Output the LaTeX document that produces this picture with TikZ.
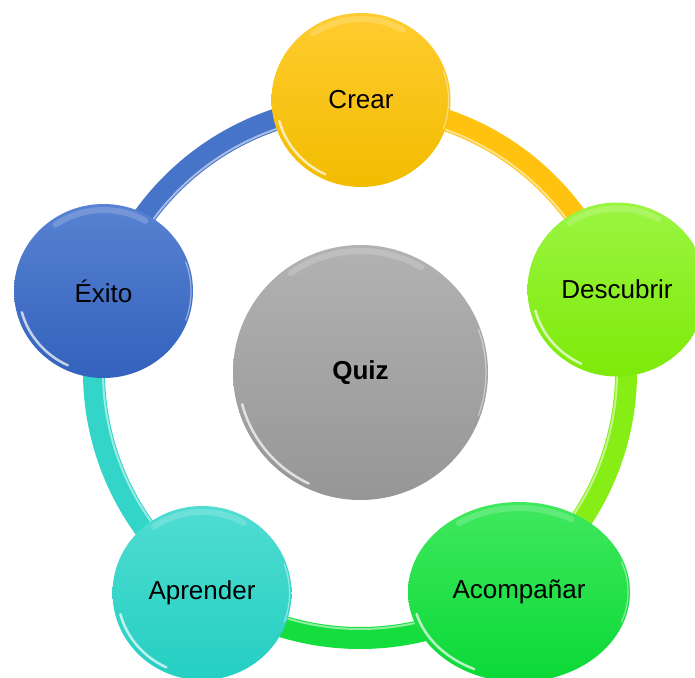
\documentclass[tikz,border=0pt]{standalone}
\usepackage{fontspec}
\setmainfont{Liberation Sans}
\usetikzlibrary{shapes.geometric,calc,backgrounds}
\definecolor{yelT}{HTML}{FFCC30}
\definecolor{yelB}{HTML}{F2BC00}
\definecolor{yelR}{HTML}{FFC20E}
\definecolor{limT}{HTML}{9AF542}
\definecolor{limB}{HTML}{7EEA08}
\definecolor{limR}{HTML}{86EE14}
\definecolor{grnT}{HTML}{40E85E}
\definecolor{grnB}{HTML}{0AD936}
\definecolor{grnR}{HTML}{14DE3E}
\definecolor{cyaT}{HTML}{50DCD2}
\definecolor{cyaB}{HTML}{24CFC2}
\definecolor{cyaR}{HTML}{33D5C9}
\definecolor{bluT}{HTML}{5882D2}
\definecolor{bluB}{HTML}{3362BC}
\definecolor{bluR}{HTML}{4674C8}
\definecolor{gryT}{HTML}{B2B2B2}
\definecolor{gryB}{HTML}{969696}
\newcommand\ballhl[3]{%
  \draw[white,opacity=.7,line width=2.5pt,line cap=round]
    ($(#1.center)+({(#2-5)*cos(195)},{(#3-5)*sin(195)})$)
    arc[start angle=195,end angle=245,x radius=#2-5,y radius=#3-5];
  \draw[white,opacity=.18,line width=6pt,line cap=round]
    ($(#1.center)+({(#2-6)*cos(60)},{(#3-6)*sin(60)})$)
    arc[start angle=60,end angle=125,x radius=#2-6,y radius=#3-6];
  \draw[white,opacity=.45,line width=1.2pt,line cap=round]
    ($(#1.center)+({(#2-2)*cos(-20)},{(#3-2)*sin(-20)})$)
    arc[start angle=-20,end angle=20,x radius=#2-2,y radius=#3-2];
}
\newcommand\ringarc[3]{%
  \draw[line width=22pt,draw=#3] ([shift={(#1:266)}]ringc)
    arc[start angle=#1,end angle=#2,radius=266];
  \draw[line width=2pt,draw=#3!35!white,opacity=.8] ([shift={(#1:257)}]ringc)
    arc[start angle=#1,end angle=#2,radius=257];
}
\begin{document}
\begin{tikzpicture}[x=1pt,y=1pt,
  ball/.style={ellipse,inner sep=0pt,text=black,
    font=\fontsize{26}{30}\selectfont},
  small/.style={minimum width=179pt,minimum height=174pt}]
\useasboundingbox (0,0) rectangle (695,-677);
\coordinate (ringc) at (360,-372);

\node[ball,small,top color=yelT,bottom color=yelB] (crear) at (361,-100) {Crear};
\node[ball,small,top color=limT,bottom color=limB] (descubrir) at (617,-289.5) {Descubrir};
\node[ball,minimum width=222pt,minimum height=180pt,top color=grnT,bottom color=grnB] (acomp) at (519,-592) {Acompañar};
\node[ball,small,top color=cyaT,bottom color=cyaB] (aprender) at (202,-593) {Aprender};
\node[ball,small,top color=bluT,bottom color=bluB] (exito) at (103.5,-291) {Éxito};
\node[ball,minimum width=255pt,minimum height=255pt,top color=gryT,bottom color=gryB,
  font=\fontsize{26}{30}\selectfont\bfseries] (quiz) at (360.5,-372.5) {Quiz};

\ballhl{crear}{89.5}{87}
\ballhl{descubrir}{89.5}{87}
\ballhl{acomp}{111}{90}
\ballhl{aprender}{89.5}{87}
\ballhl{exito}{89.5}{87}
\ballhl{quiz}{127.5}{127.5}

\begin{scope}[on background layer]
\fill[white] (0,0) rectangle (695,-677);
\ringarc{90}{18}{yelR}
\ringarc{18}{-54}{limR}
\ringarc{-54}{-126}{grnR}
\ringarc{-126}{-198}{cyaR}
\ringarc{162}{90}{bluR}
\end{scope}
\end{tikzpicture}
\end{document}
